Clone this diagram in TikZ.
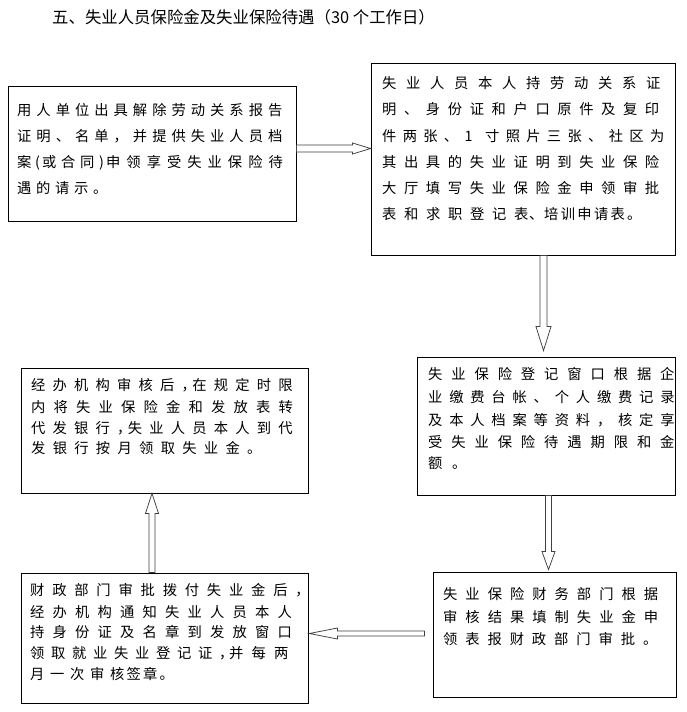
\documentclass[tikz,border=0pt]{standalone}
\usepackage{fontspec}
\setmainfont{Noto Sans CJK SC}
\usetikzlibrary{calc}
\makeatletter
\newcommand\pl[2]{\def\pl@p{#1}\pl@loop#2\pl@end}
\def\pl@end{\pl@end@mark}
\def\pl@loop#1{\ifx#1\pl@end\else\makebox[\pl@p pt][l]{#1}\expandafter\pl@loop\fi}
\makeatother
\newcommand\hollowarrow[5]{%
  \coordinate (ha-h) at ($(#2)!#5!(#1)$);
  \draw[blockarr] ($(#1)!#3!90:(#2)$) -- ($(ha-h)!#3!90:(#2)$) -- ($(ha-h)!#4!90:(#2)$) -- (#2)
    -- ($(ha-h)!#4!-90:(#2)$) -- ($(ha-h)!#3!-90:(#2)$) -- ($(#1)!#3!-90:(#2)$) -- cycle;}
\tikzset{
  box/.style={draw=black, line width=0.8pt, inner sep=0pt},
  txt/.style={anchor=base west, inner sep=0pt, font=\fontsize{14.3}{16}\selectfont},
  blockarr/.style={draw=black!75, line width=0.75pt, fill=white, line join=miter},
}
\begin{document}
\begin{tikzpicture}[x=1pt, y=-1pt]
\useasboundingbox (0,0) rectangle (686,712);
\fill[white] (0,0) rectangle (686,712);
% title
\node[anchor=base west, inner sep=0pt, font=\fontsize{16.4}{18}\selectfont] (title) at (52,23.5) {五、失业人员保险金及失业保险待遇（30 个工作日）};
% boxes
\node[box, minimum width=288pt, minimum height=135pt] (A) at (152,153.5) {};
\node[box, minimum width=304pt, minimum height=192pt] (B) at (523,159) {};
\node[box, minimum width=258pt, minimum height=138pt] (C) at (546,426) {};
\node[box, minimum width=243pt, minimum height=125pt] (D) at (554.5,634.5) {};
\node[box, minimum width=287pt, minimum height=130pt] (E) at (164.5,638) {};
\node[box, minimum width=287pt, minimum height=125pt] (F) at (164.5,430.5) {};
% box A text
\node[txt] (A1) at (17,115) {\pl{19.3}{用人单位出具解除劳动关系报告}};
\node[txt] (A2) at (17,141) {\pl{19.3}{证明、名单，并提供失业人员档}};
\node[txt] (A3) at (17,167) {\pl{18}{案}\pl{7}{(}\pl{19}{或合同}\pl{7}{)}\pl{20.3}{申领享受失业保险待}};
\node[txt] (A4) at (17,193) {\pl{19}{遇的请示。}};
% box B text
\node[txt] (B1) at (382,88) {\pl{24}{失业人员本人持劳动关系证}};
\node[txt] (B2) at (382,114) {\pl{21.9}{明、身份证和户口原件及复印}};
\node[txt] (B3) at (382,141) {\pl{20.6}{件两张、1寸照片三张、社区为}};
\node[txt] (B4) at (382,167) {\pl{21.9}{其出具的失业证明到失业保险}};
\node[txt] (B5) at (382,193) {\pl{21.9}{大厅填写失业保险金申领审批}};
\node[txt] (B6) at (382,219) {\pl{22}{表和求职登记}\pl{15}{表、}\pl{16.6}{培训申请表。}};
% box C text
\node[txt] (C1) at (428,379) {\pl{23.2}{失业保险登记窗口根据企}};
\node[txt] (C2) at (428,402) {\pl{21.1}{业缴费台帐、个人缴费记录}};
\node[txt] (C3) at (428,425) {\pl{21.1}{及本人档案等资料，核定享}};
\node[txt] (C4) at (428,447) {\pl{23.2}{受失业保险待遇期限和金}};
\node[txt] (C5) at (428,468) {\pl{24}{额。}};
% box D text
\node[txt] (D1) at (443,599) {\pl{22.3}{失业保险财务部门根据}};
\node[txt] (D2) at (443,622) {\pl{22.3}{审核结果填制失业金申}};
\node[txt] (D3) at (443,644) {\pl{22.2}{领表报财政部门审批。}};
% box E text
\node[txt] (E1) at (30,595) {\pl{22.1}{财政部门审批拨付失业金后，}};
\node[txt] (E2) at (30,617) {\pl{22.5}{经办机构通知失业人员本人}};
\node[txt] (E3) at (30,637) {\pl{22.5}{持身份证及名章到发放窗口}};
\node[txt] (E4) at (30,658) {\pl{21}{领取就业失业登记证}\pl{10}{，}\pl{22.5}{并每两}};
\node[txt] (E5) at (30,679) {\pl{20}{月一次审}\pl{16.5}{核签章。}};
% box F text
\node[txt] (F1) at (31,390) {\pl{21.5}{经办机构审核后}\pl{10.7}{，}\pl{21.5}{在规定时限}};
\node[txt] (F2) at (31,412) {\pl{22.5}{内将失业保险金和发放表转}};
\node[txt] (F3) at (31,433) {\pl{21.5}{代发银行}\pl{10.7}{，}\pl{21.5}{失业人员本人到代}};
\node[txt] (F4) at (31,453) {\pl{21.6}{发银行按月领取失业金。}};
% arrows
\coordinate (ab-s) at ($(A.east)+(0,-5)$);
\coordinate (ab-e) at (B.west |- ab-s);
\hollowarrow{ab-s}{ab-e}{3.5pt}{5.5pt}{18pt}
\coordinate (bc-s) at ($(B.south)+(20.5,0)$);
\coordinate (bc-e) at ($(C.north)+(-2.5,-6)$);
\hollowarrow{bc-s}{bc-e}{3.5pt}{7.5pt}{24pt}
\coordinate (cd-s) at ($(C.south)+(2.5,0)$);
\coordinate (cd-e) at ($(D.north)+(-6,-2)$);
\hollowarrow{cd-s}{cd-e}{3pt}{6.5pt}{18pt}
\coordinate (de-s) at ($(D.west)+(-8,-1)$);
\coordinate (de-e) at ($(E.east)+(1,-4.5)$);
\hollowarrow{de-s}{de-e}{2.5pt}{5.5pt}{28pt}
\coordinate (ef-s) at ($(E.north)+(-12.5,0)$);
\coordinate (ef-e) at (ef-s |- F.south);
\hollowarrow{ef-s}{ef-e}{3pt}{6.5pt}{20pt}
\end{tikzpicture}
\end{document}
